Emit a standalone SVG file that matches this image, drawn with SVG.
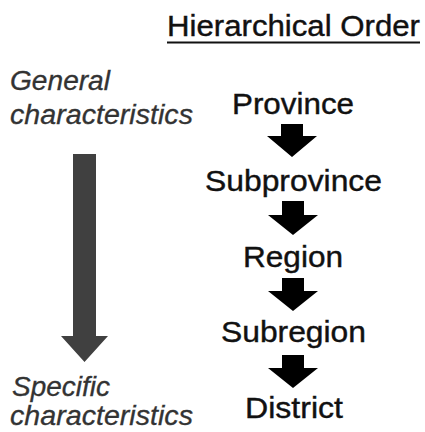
<svg xmlns="http://www.w3.org/2000/svg" width="425" height="432" viewBox="0 0 425 432">
<style>
.t{font-family:"Liberation Sans",Arial,sans-serif;font-size:29px;fill:#111;stroke:#111;stroke-width:0.4}
.i{font-family:"Liberation Sans",Arial,sans-serif;font-size:27px;font-style:italic;fill:#333;stroke:#333;stroke-width:0.3}
.a{fill:#000}
</style>
<rect width="425" height="432" fill="#fff"/>
<g id="title">
<text class="t" x="167" y="36" textLength="253" lengthAdjust="spacingAndGlyphs">Hierarchical Order</text>
<rect x="167" y="41.5" width="253" height="2" fill="#111"/>
</g>
<g id="general">
<text class="i" x="10" y="90" textLength="100" lengthAdjust="spacingAndGlyphs">General</text>
<text class="i" x="10" y="124" textLength="183" lengthAdjust="spacingAndGlyphs">characteristics</text>
</g>
<g id="specific">
<text class="i" x="12" y="396" textLength="98" lengthAdjust="spacingAndGlyphs">Specific</text>
<text class="i" x="10" y="425" textLength="183" lengthAdjust="spacingAndGlyphs">characteristics</text>
</g>
<g id="province"><text class="t" x="232" y="114" textLength="122" lengthAdjust="spacingAndGlyphs">Province</text></g>
<g id="subprovince"><text class="t" x="205" y="191" textLength="177" lengthAdjust="spacingAndGlyphs">Subprovince</text></g>
<g id="region"><text class="t" x="243" y="267" textLength="100" lengthAdjust="spacingAndGlyphs">Region</text></g>
<g id="subregion"><text class="t" x="221" y="342" textLength="145" lengthAdjust="spacingAndGlyphs">Subregion</text></g>
<g id="district"><text class="t" x="245" y="418" textLength="98" lengthAdjust="spacingAndGlyphs">District</text></g>
<g id="connectors">
<polygon class="a" points="281,124 303,124 303,136 317,136 292,157 267,136 281,136"/>
<polygon class="a" points="282,201 304,201 304,215 318,215 293,235 268,215 282,215"/>
<polygon class="a" points="282,278 304,278 304,291 318,291 293,311 268,291 282,291"/>
<polygon class="a" points="282,355 304,355 304,368 318,368 293,388 268,368 282,368"/>
<polygon fill="#404040" points="73,154 96,154 96,336 108,336 84.5,362 61,336 73,336"/>
</g>
</svg>
